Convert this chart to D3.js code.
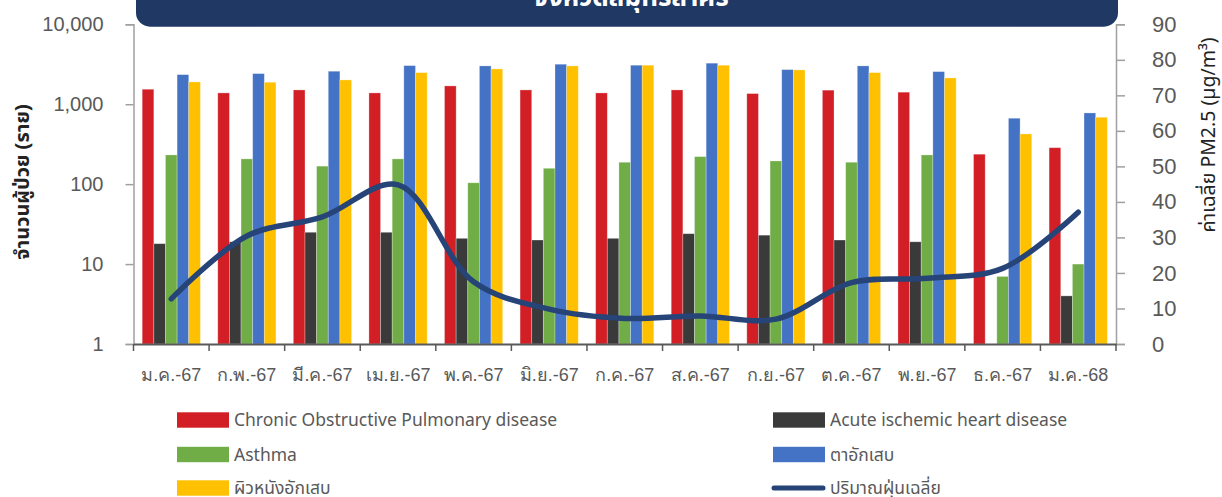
<!DOCTYPE html>
<html>
<head>
<meta charset="utf-8">
<script src="https://cdn.jsdelivr.net/npm/d3@7"></script>
<style>
  html, body { margin: 0; padding: 0; background: #fff; }
  svg { display: block; font-family: "Noto Sans", "Noto Sans Thai", "Open Sans", sans-serif; }
</style>
</head>
<body>
<svg id="chart" width="1222" height="497"></svg>
<script>
// ---------- data ----------
const months = ["ม.ค.-67","ก.พ.-67","มี.ค.-67","เม.ย.-67","พ.ค.-67","มิ.ย.-67","ก.ค.-67","ส.ค.-67","ก.ย.-67","ต.ค.-67","พ.ย.-67","ธ.ค.-67","ม.ค.-68"];
const copd   = [1540, 1385, 1510, 1385, 1695, 1510, 1385, 1510, 1360, 1500, 1415, 237, 286];
const ihd    = [18, 19, 25, 25, 21, 20, 21, 24, 23, 20, 19, null, 4];
const asthma = [232, 207, 168, 207, 104, 158, 188, 221, 195, 188, 232, 7, 10];
const eye    = [2346, 2415, 2588, 3041, 3016, 3166, 3077, 3262, 2712, 3016, 2559, 668, 778];
const skin   = [1901, 1885, 2015, 2487, 2766, 3016, 3077, 3077, 2687, 2487, 2134, 425, 687];
const pm25   = [12.7, 30.4, 35.8, 44.8, 17.5, 9.8, 7.2, 7.9, 7.0, 17.3, 18.5, 21.3, 37.1];
const seriesNames = ["Chronic Obstructive Pulmonary disease", "Acute ischemic heart disease", "Asthma", "ตาอักเสบ", "ผิวหนังอักเสบ"];
const lineName = "ปริมาณฝุ่นเฉลี่ย";
const leftTicks = [1, 10, 100, 1000, 10000];
const rightTicks = [0, 10, 20, 30, 40, 50, 60, 70, 80, 90];
const titleText = "จังหวัดสมุทรสาคร";
const leftTitle = "จำนวนผู้ป่วย (ราย)";
const rightTitle = "ค่าเฉลี่ย PM2.5 (µg/m³)";

// ---------- styling ----------
const colors = ["#D21F26", "#3A3A3A", "#70AD47", "#4472C4", "#FFC000"];
const lineColor = "#264478";
const textColor = "#595959";
const seriesData = [copd, ihd, asthma, eye, skin];

const svg = d3.select("#chart");
const L = 133.5, R = 1116, T = 24.3, B = 344;

const x0 = d3.scaleBand().domain(months).range([L, R]).paddingInner(0.23).paddingOuter(0.115);
const x1 = d3.scaleBand().domain(d3.range(5)).range([0, x0.bandwidth()]).padding(0);
const yL = d3.scaleLog().domain([1, 10000]).range([B, T]);
const yR = d3.scaleLinear().domain([0, 90]).range([B, T]);
const step = x0.step();

// title banner
svg.append("rect").attr("x", 136).attr("y", -30).attr("width", 982).attr("height", 56.7)
  .attr("rx", 14).attr("fill", "#203864");
svg.append("text").attr("x", 631).attr("y", 6).attr("text-anchor", "middle")
  .attr("fill", "#fff").attr("font-size", 26).attr("font-weight", "bold").text(titleText);

// bars
const groups = svg.append("g").selectAll("g").data(months).join("g")
  .attr("transform", d => `translate(${x0(d)},0)`);
groups.selectAll("rect")
  .data((m, i) => seriesData.map((s, k) => ({k, v: s[i]})).filter(d => d.v != null && d.v > 0))
  .join("rect")
  .attr("x", d => x1(d.k))
  .attr("width", x1.bandwidth())
  .attr("y", d => yL(d.v))
  .attr("height", d => B - yL(d.v))
  .attr("fill", d => colors[d.k])
  .attr("stroke", "#ffffff").attr("stroke-opacity", 0.35).attr("stroke-width", 0.8);

// left axis
const axL = svg.append("g").attr("transform", `translate(${L},0)`)
  .call(d3.axisLeft(yL).tickValues(leftTicks).tickFormat(d3.format(",")).tickSize(8).tickPadding(22));
axL.select(".domain").attr("stroke", "#a0a0a0").attr("stroke-width", 1.5);
axL.selectAll(".tick line").attr("stroke", "#a0a0a0").attr("stroke-width", 1.5);
axL.selectAll(".tick text").attr("fill", textColor).attr("font-size", 20);

// right axis
const axR = svg.append("g").attr("transform", `translate(${R},0)`)
  .call(d3.axisRight(yR).tickValues(rightTicks).tickSize(9).tickPadding(27));
axR.select(".domain").attr("stroke", "#a0a0a0").attr("stroke-width", 1.5);
axR.selectAll(".tick line").attr("stroke", "#a0a0a0").attr("stroke-width", 1.5);
axR.selectAll(".tick text").attr("fill", textColor).attr("font-size", 22);

// bottom axis
const axB = svg.append("g").attr("transform", `translate(0,${B})`)
  .call(d3.axisBottom(x0).tickSize(0).tickPadding(24));
axB.select(".domain").attr("stroke", "#595959").attr("stroke-width", 2);
axB.selectAll(".tick text").attr("fill", textColor).attr("font-size", 18);
axB.selectAll("line.bt").data(d3.range(months.length + 1)).join("line").attr("class", "bt")
  .attr("x1", i => L + i * step).attr("x2", i => L + i * step)
  .attr("y1", 0).attr("y2", 7).attr("stroke", "#595959").attr("stroke-width", 1.5);

// PM2.5 line
const line = d3.line()
  .x((d, i) => x0(months[i]) + x0.bandwidth() / 2)
  .y(d => yR(d))
  .curve(d3.curveCatmullRom.alpha(0.5));
svg.append("path").datum(pm25).attr("d", line).attr("fill", "none")
  .attr("stroke", lineColor).attr("stroke-width", 5.5).attr("stroke-linecap", "round");

// axis titles
svg.append("text").attr("transform", "translate(29,182) rotate(-90)")
  .attr("text-anchor", "middle").attr("fill", "#222").attr("font-size", 20).attr("font-weight", "bold")
  .text(leftTitle);
svg.append("text").attr("transform", "translate(1215,135) rotate(-90)")
  .attr("text-anchor", "middle").attr("fill", "#222").attr("font-size", 19.5)
  .text(rightTitle);

// legend
const legendItems = [
  {name: seriesNames[0], color: colors[0], x: 177, y: 420, type: "rect"},
  {name: seriesNames[1], color: colors[1], x: 773, y: 420, type: "rect"},
  {name: seriesNames[2], color: colors[2], x: 177, y: 454.5, type: "rect"},
  {name: seriesNames[3], color: colors[3], x: 773, y: 454.5, type: "rect"},
  {name: seriesNames[4], color: colors[4], x: 177, y: 488, type: "rect"},
  {name: lineName, color: lineColor, x: 773, y: 488, type: "line"}
];
const lg = svg.append("g").selectAll("g").data(legendItems).join("g")
  .attr("transform", d => `translate(${d.x},${d.y})`);
lg.filter(d => d.type === "rect").append("rect")
  .attr("x", 0).attr("y", -7.7).attr("width", 52).attr("height", 15.4).attr("fill", d => d.color);
lg.filter(d => d.type === "line").append("line")
  .attr("x1", 1).attr("x2", 50).attr("y1", 0).attr("y2", 0)
  .attr("stroke", d => d.color).attr("stroke-width", 5).attr("stroke-linecap", "round");
lg.append("text").attr("x", 57).attr("y", 0).attr("dy", "0.35em")
  .attr("fill", textColor).attr("font-size", 17.5).text(d => d.name);
</script>
</body>
</html>
